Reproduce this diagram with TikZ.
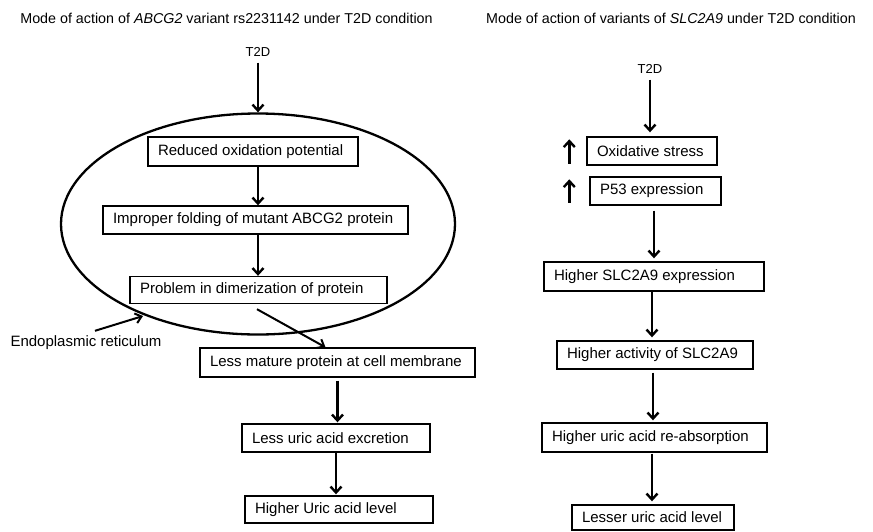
\documentclass[tikz,border=0pt]{standalone}
\usepackage{fontspec}
\setmainfont{Liberation Sans}
\usetikzlibrary{arrows.meta,shapes.geometric,calc}
\newcommand\bxtxt[2]{\makebox[#1][l]{#2}}
\begin{document}
\begin{tikzpicture}[x=1pt,y=-1pt,
  box/.style={draw,line width=1.4pt,inner xsep=10pt,inner ysep=0pt,font=\fontsize{15}{17}\selectfont},
  title/.style={font=\fontsize{14.3}{16}\selectfont,inner sep=0pt},
  lab/.style={font=\fontsize{13}{15}\selectfont,inner sep=0pt},
  arr/.style={line width=2.4pt,-{Straight Barb[length=6pt,width=11pt]}},
  thinarr/.style={line width=2pt,-{Straight Barb[length=6pt,width=10pt]}}]
\useasboundingbox (0,0) rectangle (873,531);

% titles
\node[title] (tl) at (226.5,18) {Mode of action of \textit{ABCG2} variant rs2231142 under T2D condition};
\node[title] (tr) at (671,18) {Mode of action of variants of \textit{SLC2A9} under T2D condition};

% left pathway
\node[lab] (t2dL) at (258,52) {T2D};
\node[draw,ellipse,line width=2.3pt,minimum width=394pt,minimum height=221pt,inner sep=0pt] (ell) at (258,224) {};
\node[box,minimum height=29pt] (b1) at (253,151.5) {\bxtxt{190pt}{Reduced oxidation potential}};
\node[box,minimum height=28pt] (b2) at (255.5,220) {\bxtxt{285pt}{Improper folding of mutant ABCG2 protein}};
\node[box,minimum height=27pt] (b3) at (258.5,290) {\bxtxt{237pt}{Problem in dimerization of protein}};
\node[box,minimum height=29pt] (b4) at (337.5,362.5) {\bxtxt{255pt}{Less mature protein at cell membrane}};
\node[box,minimum height=28pt] (b5) at (336,438) {\bxtxt{168pt}{Less uric acid excretion}};
\node[box,minimum height=27pt] (b6) at (339,509.5) {\bxtxt{168pt}{Higher Uric acid level}};
\node[font=\fontsize{15}{17}\selectfont,inner sep=0pt] (er) at (86,343) {Endoplasmic reticulum};
\coordinate (erTip) at (143,316);

\draw[arr] ([yshift=-6pt]t2dL.south) -- (ell.north);
\draw[arr] (b1.south -| ell.north) -- (b2.north -| ell.north);
\draw[arr] (b2.south -| ell.north) -- (b3.north -| ell.north);
\draw[thinarr] ($(b3.south)+(-1.5,5)$) -- ([xshift=-12pt]b4.north);
\draw[arr] ([yshift=-3pt]b4.south) -- ([yshift=1pt]b5.north -| b4.south);
\draw[arr] (b5.south) -- ([yshift=1pt]b6.north -| b5.south);
\draw[thinarr] ([xshift=9pt,yshift=5pt]er.north) -- (erTip);

% right pathway
\node[lab] (t2dR) at (650,69) {T2D};
\node[box,minimum height=28pt] (r1) at (652,151) {\bxtxt{110pt}{Oxidative stress}};
\node[box,minimum height=28pt] (r2) at (655.5,191) {\bxtxt{111pt}{P53 expression}};
\node[box,minimum height=29pt] (r3) at (654,276.5) {\bxtxt{200pt}{Higher SLC2A9 expression}};
\node[box,minimum height=28pt] (r4) at (655,355) {\bxtxt{176pt}{Higher activity of SLC2A9}};
\node[box,minimum height=29pt] (r5) at (654.5,437.5) {\bxtxt{205pt}{Higher uric acid re-absorption}};
\node[box,minimum height=25pt] (r6) at (653,517.5) {\bxtxt{142pt}{Lesser uric acid level}};

\draw[arr] ([yshift=-6pt]t2dR.south) -- ([yshift=4pt]r1.north -| t2dR.south);
\draw[arr] ([xshift=-17pt,yshift=2pt]r1.south west) -- ([xshift=-17pt,yshift=-3pt]r1.north west);
\draw[arr] ([xshift=-20pt,yshift=3pt]r2.south west) -- ([xshift=-20pt,yshift=-3pt]r2.north west);
\draw[arr] ([yshift=-5pt]r2.south -| r3.north) -- ([yshift=3pt]r3.north);
\draw[arr] (r3.south -| 652,0) -- ([yshift=3pt]r4.north -| 652,0);
\draw[arr] ([yshift=-3pt]r4.south -| 653,0) -- ([yshift=2pt]r5.north -| 653,0);
\draw[arr] ([yshift=-1pt]r5.south -| 652,0) -- ([yshift=3pt]r6.north -| 652,0);
\end{tikzpicture}
\end{document}
